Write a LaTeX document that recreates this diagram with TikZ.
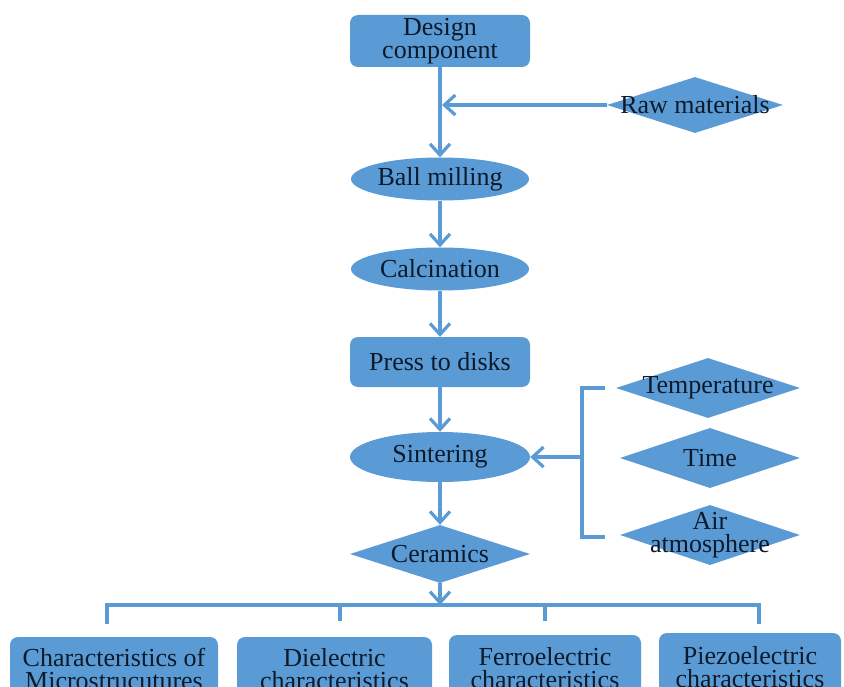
\documentclass[tikz,border=0pt]{standalone}
\usepackage{fontspec}
\setmainfont{Liberation Serif}
\usetikzlibrary{shapes.geometric,arrows.meta,calc}
\definecolor{bfill}{HTML}{5B9BD5}
\definecolor{bline}{HTML}{5B9BD5}
\definecolor{ink}{HTML}{0D1A2A}
\begin{document}
\begin{tikzpicture}[x=1pt,y=-1pt,
  txt/.style={font=\fontsize{26}{23}\selectfont, text=ink, align=center},
  rbox/.style={txt, fill=bfill, draw=none, rounded corners=8pt, inner sep=0pt},
  ell/.style={txt, ellipse, fill=bfill, draw=none, inner sep=0pt, minimum width=178pt, minimum height=43pt},
  dia/.style={diamond, fill=bfill, draw=none, inner sep=0pt},
  conn/.style={draw=bline, line width=3.2pt},
  arr/.style={conn, -{Straight Barb[length=11pt,width=20pt,line width=3.2pt]}}
]
\useasboundingbox (0,0) rectangle (844,687);
\clip (0,0) rectangle (844,687);

% main column
\node[rbox, minimum width=180pt, minimum height=52pt] (design) at (440,41) {Design\\component};
\node[dia, minimum width=176pt, minimum height=56pt, label={[txt]center:Raw materials}] (raw) at (695,105) {};
\node[ell] (ball) at (440,179) {Ball milling};
\node[ell] (calc) at (440,269) {Calcination};
\node[rbox, minimum width=180pt, minimum height=50pt] (press) at (440,362) {Press to disks};
\node[ell, minimum width=180pt, minimum height=50pt] (sinter) at (440,457) {Sintering};
\node[dia, minimum width=180pt, minimum height=58pt, label={[txt]center:Ceramics}] (cer) at (440,554) {};

% parameters
\node[dia, minimum width=184pt, minimum height=60pt, label={[txt]center:Temperature}] (temp) at (708,388) {};
\node[dia, minimum width=180pt, minimum height=60pt, label={[txt]center:Time}] (time) at (710,458) {};
\node[dia, minimum width=180pt, minimum height=60pt, label={[txt]center:Air\\atmosphere}] (air) at (710,535) {};

% outputs
\node[rbox, minimum width=208pt, minimum height=64pt] (out1) at (114,669) {Characteristics of\\Microstrucutures};
\node[rbox, minimum width=195pt, minimum height=64pt] (out2) at (334.5,669) {Dielectric\\characteristics};
\node[rbox, minimum width=192pt, minimum height=66pt] (out3) at (545,668) {Ferroelectric\\characteristics};
\node[rbox, minimum width=182pt, minimum height=68pt] (out4) at (750,667) {Piezoelectric\\characteristics};

% connectors, main column
\draw[arr] (design.south) -- (ball.north);
\coordinate (rawjoin) at ($(design.south |- raw.west)+(2,0)$);
\draw[arr] (raw.west) -- (rawjoin);
\draw[arr] (ball.south) -- (calc.north);
\draw[arr] (calc.south) -- (press.north);
\draw[arr] (press.south) -- (sinter.north);
\draw[arr] (sinter.south) -- (cer.north);

% bracket for parameters
\coordinate (bt) at (605,388);
\coordinate (bb) at (605,537);
\coordinate (bm) at (582,457);
\draw[conn] (bt) -- (bt -| bm) -- (bb -| bm) -- (bb);
\draw[arr] (bm) -- (sinter.east);

% bottom bracket
\coordinate (hl) at (107,605);
\coordinate (hr) at (759,605);
\draw[arr] (cer.south) -- (cer.south |- hl);
\draw[conn] (107,624) -- (hl) -- (hr) -- (759,624);
\draw[conn] (340,605) -- (340,621);
\draw[conn] (545,605) -- (545,621);
\end{tikzpicture}
\end{document}
